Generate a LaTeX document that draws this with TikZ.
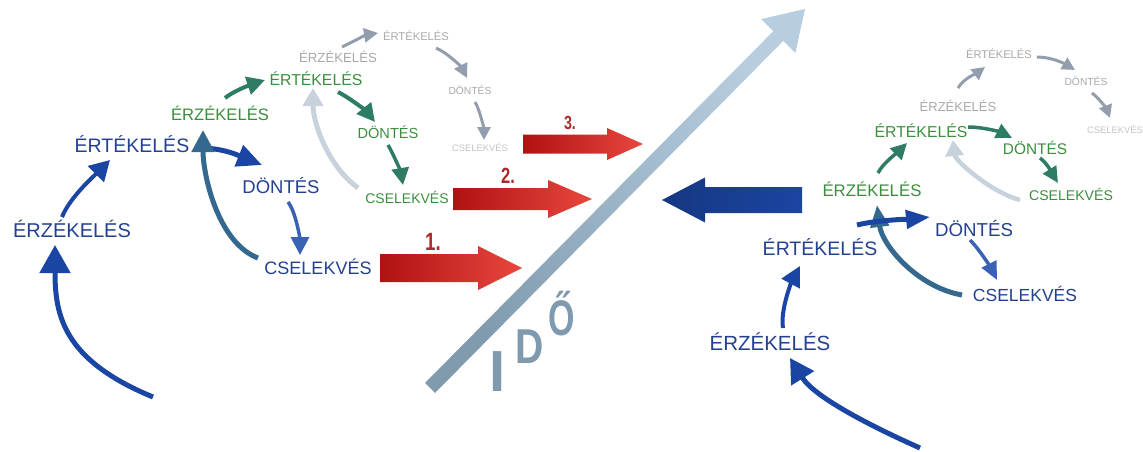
\documentclass[tikz,border=0pt]{standalone}
\usepackage{fontspec}
\setmainfont{Liberation Sans}
\usetikzlibrary{arrows.meta,backgrounds}
\definecolor{blueT}{HTML}{23418F}
\definecolor{blueA}{HTML}{1B45A2}
\definecolor{blueB}{HTML}{3A62B4}
\definecolor{blueteal}{HTML}{34688E}
\definecolor{greenT}{HTML}{3A8E3C}
\definecolor{tealA}{HTML}{2E7B66}
\definecolor{grayT}{HTML}{A8A8A8}
\definecolor{grayL}{HTML}{C4C4C4}
\definecolor{grayA}{HTML}{929EAD}
\definecolor{paleA}{HTML}{C7D2DD}
\definecolor{redD}{HTML}{B01212}
\definecolor{redL}{HTML}{E8473E}
\definecolor{redT}{HTML}{AE2A2A}
\definecolor{timeD}{HTML}{809AAE}
\definecolor{timeL}{HTML}{B7CEE0}
\definecolor{timeT}{HTML}{7F9AAF}
\newcommand{\squeeze}[2]{\scalebox{#1}[1]{#2}}
% tail x, head base x, tip x, y, half shaft, half head
\newcommand{\fatarrow}[7]{%
  \shade[#1] (#2,{#5-#6}) -- (#3,{#5-#6}) -- (#3,{#5-#7}) -- (#4,#5)
    -- (#3,{#5+#7}) -- (#3,{#5+#6}) -- (#2,{#5+#6}) -- cycle;}
\begin{document}
\begin{tikzpicture}[
        x=1pt, y=-1pt,
        lbl/.style={inner sep=1pt, text height={0.72*#1}, text depth=0pt,
            font=\fontsize{#1}{#1}\selectfont},
        bluet/.style={lbl=#1, text=blueT},
        greent/.style={lbl=#1, text=greenT},
        grayt/.style={lbl=#1, text=grayT},
        num/.style={inner sep=0pt, text height={0.72*#1}, text depth=0pt,
            text=redT, font=\bfseries\fontsize{#1}{#1}\selectfont},
        ido/.style={inner sep=0pt, text height={0.72*#1}, text depth=0pt,
            text=timeT, font=\bfseries\fontsize{#1}{#1}\selectfont},
        arr/.style n args={4}{draw=#1, line width=#2,
            -{Triangle[width=#3,length=#4]}},
    ]
    \useasboundingbox (0,0) rectangle (1143,452);

    % time axis
    \shade[top color=timeL, bottom color=timeD, shading angle=-45]
        (435,393) -- (783.3,40.9) -- (795.4,52.9) -- (805,9)
        -- (761.2,19.1) -- (773.3,31.1) -- (425,383) -- cycle;
    \node[ido=58] (iI) at (498,371) {I};
    \node[ido=49] (iD) at (530,346) {\squeeze{0.8}{D}};
    \node[ido=50] (iO) at (562,317) {\squeeze{0.68}{Ő}};

    % block arrows
    \fatarrow{left color=redD, right color=redL}{380}{478}{522}{268}{14}{22}
    \fatarrow{left color=redD, right color=redL}{453}{548}{592}{199}{11}{19}
    \fatarrow{left color=redD, right color=redL}{523}{607}{643}{144}{9.5}{16}
    \fatarrow{left color=blueA!80!black, right color=blueA}{802}{705}{662}{200}{13}{22.5}
    \node[num=25] (n1) at (433,241) {\squeeze{0.75}{1.}};
    \node[num=22] (n2) at (508,176) {\squeeze{0.75}{2.}};
    \node[num=19] (n3) at (570,123) {\squeeze{0.75}{3.}};

    % left cycles
    \node[bluet=20] (lerz1) at (72,230) {ÉRZÉKELÉS};
    \node[bluet=19.5] (lert1) at (132,145) {ÉRTÉKELÉS};
    \node[bluet=18.5] (ldon1) at (281,187) {DÖNTÉS};
    \node[bluet=18] (lcse1) at (318,268) {CSELEKVÉS};
    \node[greent=16.6] (lerz2) at (220,115) {ÉRZÉKELÉS};
    \node[greent=15.8] (lert2) at (316,80) {ÉRTÉKELÉS};
    \node[greent=14.6] (ldon2) at (388,133) {DÖNTÉS};
    \node[greent=14] (lcse2) at (407,198) {CSELEKVÉS};
    \node[grayt=13.2] (lerz3) at (338,58) {ÉRZÉKELÉS};
    \node[grayt=11.2] (lert3) at (416,36) {ÉRTÉKELÉS};
    \node[grayt=10.3] (ldon3) at (470,91) {DÖNTÉS};
    \node[grayt=9.4, text=grayL] (lcse3) at (480,148) {CSELEKVÉS};

    % right cycles
    \node[bluet=20.5] (rerz1) at (770,343) {ÉRZÉKELÉS};
    \node[bluet=19.5] (rert1) at (820,248) {ÉRTÉKELÉS};
    \node[bluet=18.7] (rdon1) at (974,230) {DÖNTÉS};
    \node[bluet=17.5] (rcse1) at (1025,295) {CSELEKVÉS};
    \node[greent=16.8] (rerz2) at (872,190) {ÉRZÉKELÉS};
    \node[greent=15.8] (rert2) at (921,132) {ÉRTÉKELÉS};
    \node[greent=15.4] (rdon2) at (1035,149) {DÖNTÉS};
    \node[greent=14.1] (rcse2) at (1071,195) {CSELEKVÉS};
    \node[grayt=13] (rerz3) at (958,107) {ÉRZÉKELÉS};
    \node[grayt=11.2] (rert3) at (999,54) {ÉRTÉKELÉS};
    \node[grayt=10.3] (rdon3) at (1086,82) {DÖNTÉS};
    \node[grayt=9.4, text=grayL] (rcse3) at (1115,130) {CSELEKVÉS};

    \coordinate (lbot) at (153,397);
    \coordinate (rbot) at (920,448);

    \begin{pgfonlayer}{background}
    % left
    \draw[arr={blueA}{5pt}{30pt}{28pt}] (lbot)
        .. controls +(-90,-37) and +(0,70) .. ([shift={(-17,15)}]lerz1.center);
    \draw[arr={blueA}{4pt}{22pt}{20pt}] ([shift={(-10,-13)}]lerz1.center)
        .. controls +(8,-20) and +(-15,15) .. ([shift={(-22,15)}]lert1.center);
    \draw[arr={blueA}{5pt}{22pt}{25pt}] ([shift={(68,3)}]lert1.center)
        .. controls +(25,0) and +(-20,-8) .. ([shift={(-19,-22)}]ldon1.center);
    \draw[arr={blueB}{3.5pt}{18pt}{18pt}] ([shift={(7,15)}]ldon1.center)
        .. controls +(8,10) and +(0,-15) .. ([shift={(-18,-13)}]lcse1.center);
    \draw[arr={blueteal}{5pt}{22pt}{22pt}] ([shift={(-60,-10)}]lcse1.center)
        .. controls +(-40,-15) and +(0,45) .. ([shift={(-17,15)}]lerz2.center);
    \draw[arr={tealA}{4pt}{18pt}{18pt}] ([shift={(5,-17)}]lerz2.center)
        .. controls +(10,-8) and +(-12,4) .. ([shift={(-51,0)}]lert2.center);
    \draw[arr={tealA}{4pt}{18pt}{18pt}] ([shift={(22,12)}]lert2.center)
        .. controls +(12,6) and +(-8,-10) .. ([shift={(-13,-11)}]ldon2.center);
    \draw[arr={tealA}{3.5pt}{17pt}{17pt}] ([shift={(0,12)}]ldon2.center)
        .. controls +(5,8) and +(-2,-12) .. ([shift={(-4,-13)}]lcse2.center);
    \draw[arr={paleA}{5pt}{20pt}{18pt}] ([shift={(-49,-10)}]lcse2.center)
        .. controls +(-30,-22) and +(0,35) .. ([shift={(-25,30)}]lerz3.center);
    \draw[arr={grayA}{3pt}{14pt}{14pt}] ([shift={(4,-11)}]lerz3.center)
        .. controls +(12,-6) and +(-12,2) .. ([shift={(-38,-3)}]lert3.center);
    \draw[arr={grayA}{3pt}{14pt}{14pt}] ([shift={(20,12)}]lert3.center)
        .. controls +(12,5) and +(-5,-10) .. ([shift={(-3,-13)}]ldon3.center);
    \draw[arr={grayA}{3pt}{13pt}{13pt}] ([shift={(5,11)}]ldon3.center)
        .. controls +(5,8) and +(0,-10) .. ([shift={(4,-8)}]lcse3.center);
    % right
    \draw[arr={blueA}{5pt}{26pt}{24pt}] (rbot)
        .. controls +(-45,-20) and +(25,40) .. ([shift={(20,15)}]rerz1.center);
    \draw[arr={blueA}{4pt}{20pt}{20pt}] ([shift={(13,-15)}]rerz1.center)
        .. controls +(-3,-18) and +(-8,15) .. ([shift={(-20,18)}]rert1.center);
    \draw[arr={blueteal}{5pt}{18pt}{22pt}] ([shift={(-63,0)}]rcse1.center)
        .. controls +(-45,-8) and +(5,40) .. ([shift={(5,15)}]rerz2.center);
    \draw[arr={blueA}{5pt}{18pt}{24pt}] ([shift={(37,-23)}]rert1.center)
        .. controls +(20,-5) and +(-20,2) .. ([shift={(-44,-13)}]rdon1.center);
    \draw[arr={blueB}{3.5pt}{16pt}{18pt}] ([shift={(-4,10)}]rdon1.center)
        .. controls +(10,10) and +(-5,-10) .. ([shift={(-28,-15)}]rcse1.center);
    \draw[arr={tealA}{3.5pt}{16pt}{16pt}] ([shift={(6,-17)}]rerz2.center)
        .. controls +(5,-10) and +(-8,8) .. ([shift={(-14,11)}]rert2.center);
    \draw[arr={tealA}{3.5pt}{15pt}{16pt}] ([shift={(47,-5)}]rert2.center)
        .. controls +(15,0) and +(-12,-6) .. ([shift={(-23,-11)}]rdon2.center);
    \draw[arr={tealA}{3.5pt}{15pt}{16pt}] ([shift={(5,9)}]rdon2.center)
        .. controls +(8,6) and +(-5,-8) .. ([shift={(-13,-12)}]rcse2.center);
    \draw[arr={paleA}{4.5pt}{18pt}{16pt}] ([shift={(-51,5)}]rcse2.center)
        .. controls +(-30,-8) and +(2,20) .. ([shift={(-5,33)}]rerz3.center);
    \draw[arr={grayA}{3pt}{13pt}{13pt}] ([shift={(0,-19)}]rerz3.center)
        .. controls +(6,-10) and +(-8,6) .. ([shift={(-14,13)}]rert3.center);
    \draw[arr={grayA}{3pt}{13pt}{13pt}] ([shift={(38,3)}]rert3.center)
        .. controls +(15,0) and +(-10,-6) .. ([shift={(-11,-12)}]rdon3.center);
    \draw[arr={grayA}{3pt}{13pt}{13pt}] ([shift={(6,11)}]rdon3.center)
        .. controls +(8,6) and +(-3,-8) .. ([shift={(-5,-12)}]rcse3.center);
    \end{pgfonlayer}
\end{tikzpicture}
\end{document}
